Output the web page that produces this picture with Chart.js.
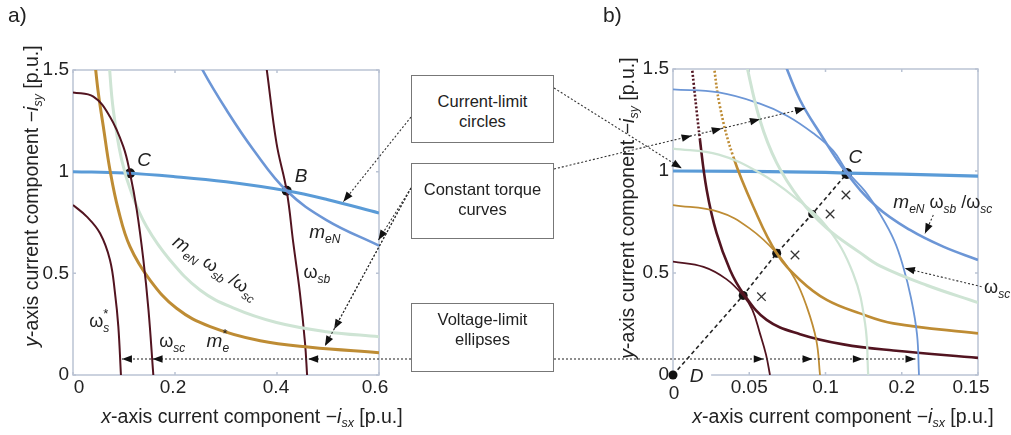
<!DOCTYPE html>
<html>
<head>
<meta charset="utf-8">
<script src="https://cdn.jsdelivr.net/npm/chart.js@4.4.0/dist/chart.umd.min.js"></script>
<style>
body { margin: 0; background: #fff; font-family: "Liberation Sans", Arial, sans-serif; color: #222; }
#page { position: relative; width: 1011px; height: 435px; overflow: hidden; }
canvas { position: absolute; top: 0; }
.tag { position: absolute; font-size: 21px; }
.ttl { position: absolute; font-size: 19.5px; white-space: nowrap; transform: translate(-50%, -50%); }
.ttl.rot { transform: translate(-50%, -50%) rotate(-90deg); }
.ttl sub { font-size: 12.5px; font-style: italic; vertical-align: -4px; }
.xt { position: absolute; font-size: 19px; line-height: 19px; white-space: nowrap; transform: translateX(-50%); }
.box { position: absolute; left: 411px; width: 143px; border: 1px solid #777; box-sizing: border-box;
       text-align: center; font-size: 16.5px; line-height: 20px; background: #fff; }
</style>
</head>
<body>
<div id="page">
  <canvas id="chartA" width="400" height="435" style="left:0"></canvas>
  <canvas id="chartB" width="411" height="435" style="left:600px"></canvas>
  <canvas id="overlay" width="1011" height="435" style="left:0"></canvas>

  <div class="tag" style="left:8px;top:3px">a)</div>
  <div class="tag" style="left:603px;top:3px">b)</div>

  <div class="ttl rot" style="left:32px;top:196px"><i>y</i>-axis current component &minus;<i>i</i><sub>sy</sub> [p.u.]</div>
  <div class="ttl" style="left:252px;top:417px"><i>x</i>-axis current component &minus;<i>i</i><sub>sx</sub> [p.u.]</div>
  <div class="ttl rot" style="left:628px;top:208px"><i>y</i>-axis current component &minus;<i>i</i><sub>sy</sub> [p.u.]</div>
  <div class="ttl" style="left:843px;top:417px"><i>x</i>-axis current component &minus;<i>i</i><sub>sx</sub> [p.u.]</div>

  <div class="box" id="box1" style="top:75px;height:68px;padding-top:15px">Current-limit<br>circles</div>
  <div class="box" id="box2" style="top:163px;height:76px;padding-top:15px">Constant torque<br>curves</div>
  <div class="box" id="box3" style="top:303px;height:69px;padding-top:5px">Voltage-limit<br>ellipses</div>
</div>

<script>
// ---------- a) ----------
const aXTickVals = [0, 0.2, 0.4, 0.6];
const aXTicks = ['0', '0.2', '0.4', '0.6'];
const aYTickVals = [0, 0.5, 1, 1.5];
const aYTicks = ['0', '0.5', '1', '1.5'];

const aCircleX = [0, 0.1, 0.2, 0.3, 0.419, 0.5, 0.6];
const aCircleY = [1.0, 0.993, 0.975, 0.95, 0.906, 0.862, 0.797];
const aTorqueNX = [0.245, 0.254, 0.301, 0.354, 0.419, 0.497, 0.6];
const aTorqueNY = [1.56, 1.5, 1.303, 1.107, 0.906, 0.762, 0.636];
const aTorqueCX = [0.07, 0.079, 0.0954, 0.115, 0.1445, 0.19, 0.249, 0.314, 0.399, 0.497, 0.6];
const aTorqueCY = [1.56, 1.303, 1.058, 0.894, 0.729, 0.566, 0.418, 0.33, 0.258, 0.213, 0.188];
const aTorqueStarX = [0.042, 0.0497, 0.0595, 0.0725, 0.0889, 0.1118, 0.151, 0.203, 0.269, 0.367, 0.465, 0.6];
const aTorqueStarY = [1.56, 1.386, 1.221, 1.008, 0.812, 0.631, 0.467, 0.328, 0.238, 0.168, 0.136, 0.11];
const aEllStarX = [0, 0.027, 0.053, 0.0725, 0.0824, 0.0889, 0.094];
const aEllStarY = [0.836, 0.779, 0.697, 0.566, 0.402, 0.238, 0];
const aEllScX = [0, 0.04, 0.0725, 0.0987, 0.1118, 0.125, 0.138, 0.148, 0.1575];
const aEllScY = [1.39, 1.369, 1.27, 1.123, 0.992, 0.812, 0.566, 0.32, 0];
const aEllSbX = [0.376, 0.38, 0.399, 0.419, 0.432, 0.445, 0.455, 0.459];
const aEllSbY = [1.56, 1.5, 1.14, 0.906, 0.648, 0.402, 0.156, 0];
const aPointX = [0.1118, 0.419];
const aPointY = [0.992, 0.906];

// ---------- b) ----------
const bXTickVals = [0, 0.05, 0.1, 0.15, 0.2];
const bXTicks = ['0', '0.05', '0.1', '0.2', '0.15'];
const bYTickVals = [0, 0.5, 1, 1.5];
const bYTicks = ['0', '0.5', '1', '1.5'];

const bLimitX = [0, 0.05, 0.1, 0.114, 0.15, 0.2];
const bLimitY = [1.0, 0.998, 0.993, 0.99, 0.985, 0.975];
const bCircleX = [0, 0.03, 0.057, 0.075, 0.092, 0.105, 0.114, 0.126, 0.1357, 0.145, 0.151, 0.156, 0.16, 0.1613];
const bCircleY = [1.4, 1.385, 1.33, 1.27, 1.185, 1.1, 1.0, 0.9, 0.79, 0.66, 0.53, 0.38, 0.2, 0];
const bTorqueCX = [0.072, 0.0833, 0.0964, 0.1139, 0.1336, 0.1554, 0.1772, 0.2];
const bTorqueCY = [1.55, 1.348, 1.185, 0.989, 0.825, 0.711, 0.629, 0.564];
const bGreenEllX = [0, 0.03, 0.057, 0.08, 0.1008, 0.118, 0.126, 0.128];
const bGreenEllY = [1.11, 1.08, 0.99, 0.87, 0.727, 0.5, 0.25, 0];
const bGreenHypX = [0.047, 0.057, 0.068, 0.0833, 0.1008, 0.1226, 0.1357, 0.1664, 0.2];
const bGreenHypY = [1.56, 1.25, 1.04, 0.86, 0.72, 0.6, 0.535, 0.44, 0.355];
const bGoldEllX = [0, 0.03, 0.05, 0.068, 0.08, 0.0877, 0.094, 0.0964];
const bGoldEllY = [0.833, 0.8, 0.72, 0.597, 0.47, 0.335, 0.17, 0];
const bGoldHypX = [0.0262, 0.0308, 0.0395, 0.0527, 0.068, 0.0833, 0.1008, 0.1226, 0.1445, 0.2];
const bGoldHypY = [1.55, 1.315, 1.07, 0.825, 0.597, 0.466, 0.368, 0.302, 0.253, 0.204];
const bRedEllX = [0, 0.02, 0.035, 0.046, 0.052, 0.057, 0.061, 0.0636];
const bRedEllY = [0.556, 0.53, 0.47, 0.39, 0.32, 0.204, 0.1, 0];
const bRedHypX = [0.0118, 0.0177, 0.0221, 0.0286, 0.0374, 0.0461, 0.0614, 0.0833, 0.1117, 0.1445, 0.2];
const bRedHypY = [1.55, 1.152, 0.907, 0.695, 0.515, 0.4, 0.27, 0.2, 0.15, 0.12, 0.084];
const bPathX = [0, 0.046, 0.068, 0.0913, 0.114];
const bPathY = [0, 0.39, 0.597, 0.789, 0.988];
const bCrossX = [0.058, 0.08, 0.103, 0.1134];
const bCrossY = [0.384, 0.588, 0.789, 0.882];

// arrows that join the boxes to the curves (x positions of the tips)
const aVoltArrowX = [0.096, 0.156, 0.461];
const bVoltArrowX = [0.0595, 0.0915, 0.1245, 0.159];
const bTorqueArrowX = [0.0122, 0.032, 0.057, 0.0866];

const color = {
  blue: 'rgb(90,155,215)',
  blue2: 'rgb(108,150,214)',
  green: 'rgb(206,228,212)',
  gold: 'rgb(190,140,52)',
  maroon: 'rgb(82,20,32)',
  frame: 'rgb(186,195,212)',
  ink: '#222',
};
const FONT = '"Liberation Sans", Arial, sans-serif';

function pts(xs, ys) {
  return xs.map((x, i) => ({ x: x, y: ys[i] }));
}

function curve(xs, ys, col, w, extra) {
  return Object.assign({
    data: pts(xs, ys),
    showLine: true,
    borderColor: col,
    borderWidth: w,
    pointRadius: 0,
    tension: 0.4,
  }, extra || {});
}

const dottedTop = {
  segment: { borderDash: ctx => (ctx.p0.parsed.y > 1.17 ? [2, 2] : undefined) },
};

// rich text: runs of {t, i (italic), s (size), dy, stack}
function drawRuns(ctx, px, py, rot, runs) {
  ctx.save();
  ctx.translate(px, py);
  ctx.rotate(rot * Math.PI / 180);
  ctx.fillStyle = color.ink;
  ctx.textBaseline = 'alphabetic';
  ctx.textAlign = 'left';
  let cx = 0, last = 0;
  runs.forEach(r => {
    ctx.font = (r.i ? 'italic ' : '') + (r.s || 18) + 'px ' + FONT;
    const x = r.stack ? last : cx;
    ctx.fillText(r.t, x, r.dy || 0);
    const w = ctx.measureText(r.t).width;
    if (r.stack) { cx = Math.max(cx, last + w); } else { last = cx; cx += w; }
  });
  ctx.restore();
}

const sub = (t) => ({ t: t, i: true, s: 12, dy: 5 });

// frame, inner tick marks and in-plot labels
function decorPlugin(o) {
  return {
    id: 'decor',
    beforeDatasetsDraw(chart) {
      const { ctx, chartArea: a } = chart;
      const sx = chart.scales.x, sy = chart.scales.y;
      ctx.save();
      ctx.strokeStyle = color.frame;
      ctx.lineWidth = 1.5;
      ctx.strokeRect(a.left, a.top, a.right - a.left, a.bottom - a.top);
      ctx.beginPath();
      o.xTickVals.forEach(v => {
        const p = sx.getPixelForValue(v);
        ctx.moveTo(p, a.bottom); ctx.lineTo(p, a.bottom - 3);
        ctx.moveTo(p, a.top); ctx.lineTo(p, a.top + 3);
      });
      o.yTickVals.forEach(v => {
        const p = sy.getPixelForValue(v);
        ctx.moveTo(a.left, p); ctx.lineTo(a.left + 3, p);
        ctx.moveTo(a.right, p); ctx.lineTo(a.right - 3, p);
      });
      ctx.stroke();
      if (o.gap) {
        ctx.fillStyle = '#fff';
        const g0 = sx.getPixelForValue(o.gap[0]), g1 = sx.getPixelForValue(o.gap[1]);
        ctx.fillRect(g0, a.bottom - 2, g1 - g0, 4);
      }
      ctx.restore();
    },
    afterDatasetsDraw(chart) {
      const sx = chart.scales.x, sy = chart.scales.y;
      o.labels.forEach(l => {
        drawRuns(chart.ctx, sx.getPixelForValue(l.x), sy.getPixelForValue(l.y), l.rot || 0, l.runs);
      });
    },
  };
}

function makeOptions(xMin, xMax, yTickVals, yTicks, padRight, padTop) {
  const tickFont = { family: FONT, size: 19 };
  return {
    responsive: false,
    animation: false,
    layout: { padding: { top: padTop, right: padRight, left: 0, bottom: 0 } },
    plugins: { legend: { display: false }, tooltip: { enabled: false } },
    scales: {
      x: {
        type: 'linear', min: xMin, max: xMax,
        grid: { display: false, drawTicks: false },
        border: { display: false },
        afterFit: s => { s.height = 60; },
        ticks: { display: false },
      },
      y: {
        type: 'linear', min: 0, max: 1.5,
        grid: { display: false, drawTicks: false },
        border: { display: false },
        afterBuildTicks: s => { s.ticks = yTickVals.map(v => ({ value: v })); },
        afterFit: s => { s.width = 73; },
        ticks: { autoSkip: false, padding: 4, color: color.ink, font: tickFont,
                 callback: (v, i) => yTicks[i] },
      },
    },
  };
}

// x tick labels as page text, placed with the chart's x scale
function placeXTicks(chart, offX, vals, texts, shifts) {
  const page = document.getElementById('page');
  vals.forEach((v, i) => {
    const d = document.createElement('div');
    const sh = shifts[i] || [0, 0];
    d.className = 'xt';
    d.textContent = texts[i];
    d.style.left = (offX + chart.scales.x.getPixelForValue(v) + sh[0]) + 'px';
    d.style.top = (chart.chartArea.bottom + 2 + sh[1]) + 'px';
    page.appendChild(d);
  });
}

// ---------- chart a ----------
const aLabels = [
  { x: 0.126, y: 1.028, runs: [{ t: 'C', i: true, s: 19 }] },
  { x: 0.435, y: 0.951, runs: [{ t: 'B', i: true, s: 19 }] },
  { x: 0.463, y: 0.672, runs: [{ t: 'm', i: true, s: 19 }, sub('eN')] },
  { x: 0.452, y: 0.476, runs: [{ t: 'ω' }, sub('sb')] },
  { x: 0.032, y: 0.238, runs: [{ t: 'ω' }, sub('s'), { t: '*', s: 13, dy: -9, stack: true }] },
  { x: 0.169, y: 0.139, runs: [{ t: 'ω' }, sub('sc')] },
  { x: 0.262, y: 0.136, runs: [{ t: 'm', i: true, s: 19 }, { t: 'e', i: true, s: 12, dy: 5 }, { t: '*', s: 13, dy: -9, stack: true }] },
  { x: 0.193, y: 0.642, rot: 34, runs: [{ t: 'm', i: true, s: 19 }, sub('eN'), { t: ' ω' }, sub('sb'), { t: ' /ω' }, sub('sc')] },
];

const chartA = new Chart(document.getElementById('chartA'), {
  type: 'scatter',
  data: {
    datasets: [
      curve(aEllStarX, aEllStarY, color.maroon, 2),
      curve(aEllScX, aEllScY, color.maroon, 2),
      curve(aTorqueCX, aTorqueCY, color.green, 3),
      curve(aTorqueStarX, aTorqueStarY, color.gold, 3),
      curve(aTorqueNX, aTorqueNY, color.blue2, 2.6),
      curve(aCircleX, aCircleY, color.blue, 3),
      curve(aEllSbX, aEllSbY, color.maroon, 2),
      { data: pts(aPointX, aPointY), pointRadius: 5, pointBackgroundColor: '#111', pointBorderWidth: 0 },
    ],
  },
  options: makeOptions(0, 0.6, aYTickVals, aYTicks, 21, 70),
  plugins: [decorPlugin({ labels: aLabels, xTickVals: aXTickVals, yTickVals: aYTickVals })],
});
placeXTicks(chartA, 0, aXTickVals, aXTicks, [[6, 0], [-2, 0], [-1, 0], [-4, 0]]);

// ---------- chart b ----------
const bLabels = [
  { x: 0.115, y: 1.038, runs: [{ t: 'C', i: true, s: 19 }] },
  { x: 0.011, y: -0.034, runs: [{ t: 'D', i: true, s: 19 }] },
  { x: 0.1445, y: 0.817, runs: [{ t: 'm', i: true, s: 19 }, sub('eN'), { t: ' ω' }, sub('sb'), { t: ' /ω' }, sub('sc')] },
  { x: 0.204, y: 0.4, runs: [{ t: 'ω' }, sub('sc')] },
];

const chartB = new Chart(document.getElementById('chartB'), {
  type: 'scatter',
  data: {
    datasets: [
      curve(bGreenEllX, bGreenEllY, color.green, 2.2),
      curve(bGreenHypX, bGreenHypY, color.green, 3),
      curve(bCircleX, bCircleY, color.blue2, 1.8),
      curve(bGoldEllX, bGoldEllY, color.gold, 1.8),
      curve(bGoldHypX, bGoldHypY, color.gold, 2.6, dottedTop),
      curve(bRedEllX, bRedEllY, color.maroon, 1.8),
      curve(bRedHypX, bRedHypY, color.maroon, 2.6, dottedTop),
      curve(bTorqueCX, bTorqueCY, color.blue2, 2.6),
      curve(bLimitX, bLimitY, color.blue, 3.2, { tension: 0 }),
      { data: pts(bPathX, bPathY), showLine: true, borderColor: '#222', borderWidth: 1.6, borderDash: [4, 3],
        tension: 0, pointRadius: [4.5, 4.5, 4.5, 4, 5.5], pointBackgroundColor: '#111', pointBorderWidth: 0, clip: false },
      { data: pts(bCrossX, bCrossY), pointStyle: 'crossRot', pointRadius: 6, borderColor: '#333',
        pointBorderColor: '#333', pointBorderWidth: 1.3 },
    ],
  },
  options: makeOptions(0, 0.2, bYTickVals, bYTicks, 33, 69),
  plugins: [decorPlugin({ labels: bLabels, xTickVals: bXTickVals, yTickVals: bYTickVals, gap: [0.0007, 0.025] })],
});
const offB = 600;
placeXTicks(chartB, offB, bXTickVals, bXTicks, [[1, 6], [0, 0], [0, 0], [0, 0], [-7, 0]]);

// ---------- connector arrows between boxes and charts ----------
const ov = document.getElementById('overlay').getContext('2d');
const pA = (x, y) => [chartA.scales.x.getPixelForValue(x), chartA.scales.y.getPixelForValue(y)];
const pB = (x, y) => [offB + chartB.scales.x.getPixelForValue(x), chartB.scales.y.getPixelForValue(y)];

function boxEdge(id, side, dy) {
  const el = document.getElementById(id);
  return [side === 'left' ? el.offsetLeft : el.offsetLeft + el.offsetWidth, el.offsetTop + dy];
}

function dotted(from, to) {
  ov.save();
  ov.strokeStyle = '#333';
  ov.lineWidth = 1.1;
  ov.setLineDash([2, 2]);
  ov.beginPath();
  ov.moveTo(from[0], from[1]);
  ov.lineTo(to[0], to[1]);
  ov.stroke();
  ov.restore();
}

function head(tip, from) {
  const dx = tip[0] - from[0], dy = tip[1] - from[1];
  const L = Math.hypot(dx, dy);
  const ux = dx / L, uy = dy / L;
  const len = 10, w = 3.8;
  const bx = tip[0] - ux * len, by = tip[1] - uy * len;
  ov.fillStyle = '#111';
  ov.beginPath();
  ov.moveTo(tip[0], tip[1]);
  ov.lineTo(bx - uy * w, by + ux * w);
  ov.lineTo(bx + uy * w, by - ux * w);
  ov.closePath();
  ov.fill();
}

function arrow(from, to) { dotted(from, to); head(to, from); }

// left side
const c1L = boxEdge('box1', 'left', 42);
arrow(c1L, pA(0.53, 0.852));
const c2L = boxEdge('box2', 'left', 25);
arrow(c2L, pA(0.599, 0.664));
arrow(c2L, pA(0.512, 0.225));
arrow(c2L, pA(0.494, 0.143));
const c3L = boxEdge('box3', 'left', 56);
const vA = aVoltArrowX.map(x => [pA(x, 0)[0], c3L[1]]);
dotted(c3L, vA[0]);
vA.forEach(t => head(t, c3L));

// right side
const c1R = boxEdge('box1', 'right', 13);
arrow(c1R, pB(0.0057, 1.013));
const c2R = boxEdge('box2', 'right', 6);
const tEnd = pB(bTorqueArrowX[bTorqueArrowX.length - 1], 1.307);
dotted(c2R, tEnd);
bTorqueArrowX.forEach(x => {
  const px = pB(x, 0)[0];
  const f = (px - c2R[0]) / (tEnd[0] - c2R[0]);
  head([px, c2R[1] + f * (tEnd[1] - c2R[1])], c2R);
});
const c3R = boxEdge('box3', 'right', 56);
const vB = bVoltArrowX.map(x => [pB(x, 0)[0], c3R[1]]);
dotted(c3R, vB[vB.length - 1]);
vB.forEach(t => head(t, c3R));

// in-chart pointers of panel b
arrow(pB(0.1707, 0.784), pB(0.1652, 0.694));
arrow(pB(0.2024, 0.433), pB(0.152, 0.523));
</script>
</body>
</html>
